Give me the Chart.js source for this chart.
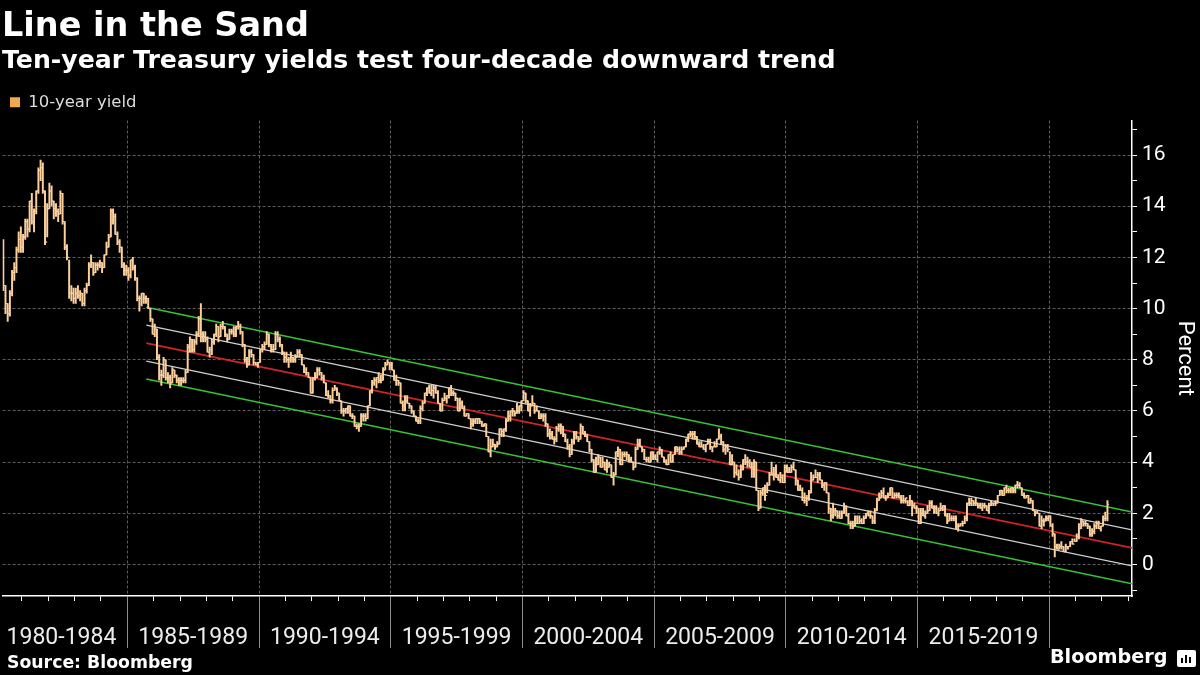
<!DOCTYPE html>
<html>
<head>
<meta charset="utf-8">
<script src="https://cdn.jsdelivr.net/npm/chart.js@4.4.1/dist/chart.umd.min.js"></script>
<style>
  body { margin: 0; background: #000; width: 1200px; height: 675px; overflow: hidden; position: relative; }
  #chart { position: absolute; left: 0; top: 0; }
  .txt { position: absolute; color: #fff; font-family: 'DejaVu Sans', sans-serif; font-weight: bold; white-space: nowrap; line-height: 1; }
  #title { left: 2px; top: 7.5px; font-size: 33.5px; }
  #subtitle { left: 2px; top: 47px; font-size: 25.2px; }
  #source { left: 7px; top: 653.5px; font-size: 17.3px; }
  #logo { left: 1050px; top: 647px; font-size: 19.2px; }
  #icon { position: absolute; left: 1177px; top: 650px; width: 19px; height: 17px; background: #fff; border-radius: 2px; }
  #icon span { position: absolute; bottom: 4px; width: 2px; background: #000; }
</style>
</head>
<body>
<canvas id="chart" width="1200" height="675"></canvas>
<div class="txt" id="title">Line in the Sand</div>
<div class="txt" id="subtitle">Ten-year Treasury yields test four-decade downward trend</div>
<div class="txt" id="source">Source: Bloomberg</div>
<div class="txt" id="logo">Bloomberg</div>
<div id="icon"><span style="left:4px;height:5px"></span><span style="left:8px;height:8px"></span><span style="left:12px;height:6px"></span></div>
<script>
// monthly bars, first bar is April 1980
var firstYear = 1980;
var firstMonth = 4;

var closes = [
  10.9, 10.2, 9.8, 10.6, 11.4, 11.6, 12.3, 12.7, 12.4,
  12.8, 13.4, 13.1, 14.2, 13.4, 13.8, 14.6, 15.4, 15.5, 14.6, 12.6, 13.9,
  14.6, 14.2, 13.9, 13.8, 13.7, 14.5, 13.4, 12.4, 12.0, 10.6, 10.6, 10.4,
  10.6, 10.5, 10.6, 10.2, 10.7, 10.9, 11.7, 11.8, 11.4, 11.7, 11.7, 11.8,
  11.6, 12.1, 12.4, 12.8, 13.8, 13.6, 12.9, 12.6, 12.4, 11.7, 11.5, 11.5,
  11.3, 11.9, 11.6, 11.2, 10.4, 10.4, 10.6, 10.4, 10.4, 10.0, 9.6, 9.0,
  9.2, 8.1, 7.4, 7.4, 8.0, 7.3, 7.3, 7.1, 7.6, 7.4, 7.2, 7.2,
  7.2, 7.2, 7.5, 8.5, 8.8, 8.4, 8.7, 9.0, 9.6, 9.0, 8.9, 8.8,
  8.3, 8.4, 8.7, 9.0, 9.3, 8.9, 9.3, 9.3, 9.0, 8.8, 9.1, 9.1,
  9.0, 9.3, 9.3, 9.1, 8.6, 8.0, 7.8, 8.3, 8.2, 7.9, 7.8, 7.9,
  8.4, 8.5, 8.6, 9.0, 8.6, 8.4, 8.4, 9.0, 8.8, 8.6, 8.3, 8.1,
  8.0, 8.0, 8.1, 8.0, 8.1, 8.3, 8.2, 7.8, 7.5, 7.5, 7.3, 6.7,
  7.3, 7.3, 7.6, 7.5, 7.3, 7.1, 6.6, 6.6, 6.4, 6.8, 6.9, 6.7,
  6.4, 6.0, 6.0, 6.1, 6.2, 5.8, 5.8, 5.4, 5.4, 5.4, 5.8, 5.8,
  5.7, 6.2, 6.8, 7.1, 7.2, 7.3, 7.2, 7.2, 7.6, 7.8, 7.9, 7.8,
  7.6, 7.2, 7.2, 7.1, 6.3, 6.2, 6.4, 6.3, 6.2, 6.0, 5.8, 5.6,
  5.6, 6.1, 6.3, 6.7, 6.9, 6.7, 6.8, 6.9, 6.7, 6.3, 6.0, 6.4,
  6.5, 6.6, 6.9, 6.7, 6.7, 6.5, 6.0, 6.3, 6.1, 5.8, 5.9, 5.7,
  5.5, 5.6, 5.7, 5.7, 5.6, 5.4, 5.5, 5.0, 4.4, 4.6, 4.7, 4.6,
  4.7, 5.3, 5.2, 5.3, 5.6, 5.8, 6.0, 6.0, 5.9, 6.0, 6.2, 6.4,
  6.7, 6.4, 6.0, 6.2, 6.3, 6.0, 6.0, 5.7, 5.8, 5.8, 5.5, 5.1,
  5.1, 4.9, 4.9, 5.3, 5.4, 5.4, 5.1, 4.8, 4.6, 4.3, 4.8, 5.1,
  5.0, 4.9, 5.4, 5.1, 5.0, 4.8, 4.5, 4.1, 3.6, 3.9, 4.2, 3.8,
  4.0, 3.7, 3.8, 3.9, 3.4, 3.5, 4.4, 4.5, 3.9, 4.3, 4.3, 4.3,
  4.1, 4.0, 3.8, 4.5, 4.7, 4.6, 4.5, 4.1, 4.1, 4.0, 4.4, 4.2,
  4.1, 4.4, 4.5, 4.2, 4.0, 3.9, 4.3, 4.0, 4.3, 4.6, 4.5, 4.4,
  4.5, 4.6, 4.9, 5.1, 5.1, 5.1, 5.0, 4.7, 4.6, 4.6, 4.5, 4.7,
  4.8, 4.6, 4.6, 4.6, 4.9, 5.0, 4.8, 4.5, 4.6, 4.5, 3.9, 4.0,
  3.6, 3.5, 3.4, 3.7, 4.1, 4.0, 4.0, 3.8, 3.8, 4.0, 2.9, 2.2,
  2.8, 3.0, 2.7, 3.1, 3.5, 3.5, 3.5, 3.4, 3.3, 3.4, 3.2, 3.8,
  3.6, 3.6, 3.8, 3.7, 3.3, 2.9, 2.9, 2.5, 2.5, 2.6, 2.8, 3.3,
  3.4, 3.4, 3.5, 3.3, 3.1, 3.2, 2.8, 2.2, 1.9, 2.1, 2.1, 1.9,
  1.8, 2.0, 2.2, 1.9, 1.6, 1.6, 1.5, 1.6, 1.6, 1.7, 1.6, 1.8,
  2.0, 1.9, 1.9, 1.7, 2.1, 2.5, 2.6, 2.8, 2.6, 2.6, 2.7, 3.0,
  2.6, 2.7, 2.7, 2.6, 2.5, 2.5, 2.6, 2.3, 2.5, 2.3, 2.2, 2.2,
  1.6, 2.0, 1.9, 2.0, 2.1, 2.4, 2.2, 2.2, 2.0, 2.1, 2.2, 2.3,
  1.9, 1.7, 1.8, 1.8, 1.8, 1.5, 1.5, 1.6, 1.6, 1.8, 2.4, 2.4,
  2.5, 2.4, 2.4, 2.3, 2.2, 2.3, 2.3, 2.1, 2.3, 2.4, 2.4, 2.4,
  2.7, 2.9, 2.7, 3.0, 2.9, 2.9, 3.0, 2.9, 3.1, 3.1, 3.0, 2.7,
  2.6, 2.7, 2.4, 2.5, 2.1, 2.0, 2.0, 1.5, 1.7, 1.7, 1.8, 1.9,
  1.5, 1.2, 0.7, 0.6, 0.7, 0.7, 0.5, 0.7, 0.7, 0.9, 0.8, 0.9,
  1.1, 1.4, 1.7, 1.6, 1.6, 1.5, 1.2, 1.3, 1.5, 1.6, 1.4, 1.5,
  1.8, 1.8, 2.35
];

var highs = [
  12.7, 10.9, 10.2, 10.7, 11.5, 11.8, 12.4, 13.0, 13.2,
  12.9, 13.5, 13.5, 14.2, 14.5, 13.9, 14.6, 15.5, 15.8, 15.7, 14.6, 14.1,
  14.9, 14.8, 14.2, 14.1, 13.9, 14.6, 14.5, 13.4, 12.5, 11.9, 10.9, 10.8,
  10.8, 10.9, 10.7, 10.6, 10.8, 11.0, 11.8, 12.1, 11.8, 11.8, 11.8, 11.9,
  11.8, 12.1, 12.6, 12.9, 13.9, 13.9, 13.7, 13.0, 12.7, 12.4, 11.8, 11.7,
  11.6, 11.9, 12.0, 11.7, 11.2, 10.5, 10.6, 10.6, 10.5, 10.4, 10.0, 9.6,
  9.4, 9.2, 8.2, 7.6, 8.1, 8.0, 7.5, 7.4, 7.7, 7.6, 7.4, 7.3,
  7.3, 7.3, 7.6, 8.6, 8.9, 8.8, 8.8, 9.1, 9.7, 10.2, 9.1, 9.1,
  8.9, 8.5, 8.8, 9.0, 9.4, 9.3, 9.4, 9.5, 9.3, 9.0, 9.2, 9.2,
  9.3, 9.3, 9.5, 9.4, 9.1, 8.6, 8.1, 8.4, 8.4, 8.2, 7.9, 7.9,
  8.4, 8.6, 8.7, 9.1, 9.0, 8.6, 8.6, 9.1, 9.1, 8.9, 8.6, 8.3,
  8.3, 8.1, 8.3, 8.1, 8.2, 8.4, 8.4, 8.2, 7.8, 7.7, 7.5, 7.3,
  7.3, 7.5, 7.7, 7.7, 7.5, 7.4, 7.1, 6.8, 6.6, 6.9, 7.0, 6.9,
  6.7, 6.4, 6.1, 6.1, 6.2, 6.2, 5.9, 5.8, 5.5, 5.5, 5.9, 5.9,
  5.9, 6.2, 6.8, 7.2, 7.3, 7.3, 7.5, 7.4, 7.7, 7.9, 8.0, 7.9,
  7.9, 7.6, 7.4, 7.2, 7.1, 6.4, 6.6, 6.6, 6.3, 6.2, 6.0, 5.8,
  5.7, 6.2, 6.4, 6.7, 6.9, 7.0, 7.0, 7.0, 7.0, 6.8, 6.3, 6.5,
  6.7, 6.6, 6.9, 7.0, 6.8, 6.7, 6.5, 6.5, 6.4, 6.2, 5.9, 5.9,
  5.7, 5.7, 5.7, 5.7, 5.7, 5.6, 5.5, 5.5, 5.0, 4.9, 4.9, 4.7,
  4.8, 5.3, 5.3, 5.3, 5.7, 6.0, 6.0, 6.1, 6.0, 6.3, 6.2, 6.4,
  6.8, 6.7, 6.4, 6.3, 6.6, 6.3, 6.2, 6.0, 5.9, 5.9, 5.9, 5.5,
  5.3, 5.2, 5.0, 5.4, 5.5, 5.5, 5.4, 5.1, 4.9, 4.7, 4.9, 5.2,
  5.2, 5.0, 5.5, 5.4, 5.2, 5.1, 4.8, 4.5, 4.1, 4.2, 4.3, 4.2,
  4.2, 4.0, 4.1, 4.0, 3.9, 3.6, 4.4, 4.6, 4.5, 4.4, 4.4, 4.4,
  4.3, 4.2, 4.0, 4.6, 4.9, 4.9, 4.6, 4.5, 4.2, 4.2, 4.4, 4.4,
  4.3, 4.4, 4.6, 4.5, 4.2, 4.1, 4.3, 4.4, 4.3, 4.6, 4.6, 4.6,
  4.6, 4.6, 4.9, 5.1, 5.2, 5.2, 5.2, 5.0, 4.8, 4.8, 4.7, 4.7,
  4.9, 4.9, 4.6, 4.8, 4.9, 5.3, 5.1, 4.8, 4.7, 4.7, 4.4, 4.3,
  4.0, 3.9, 3.7, 3.9, 4.1, 4.3, 4.2, 4.1, 4.0, 4.1, 4.0, 2.9,
  2.9, 3.0, 3.1, 3.2, 3.6, 4.0, 3.8, 3.9, 3.5, 3.6, 3.5, 3.9,
  3.9, 3.8, 3.9, 4.0, 3.7, 3.3, 3.1, 3.0, 2.8, 2.7, 2.9, 3.6,
  3.5, 3.7, 3.6, 3.6, 3.3, 3.2, 3.2, 2.8, 2.2, 2.4, 2.2, 2.1,
  2.1, 2.1, 2.4, 2.3, 2.0, 1.7, 1.7, 1.9, 1.9, 1.9, 1.8, 1.9,
  2.0, 2.1, 2.1, 1.9, 2.2, 2.6, 2.8, 2.9, 3.0, 2.7, 2.8, 3.0,
  3.0, 2.8, 2.8, 2.8, 2.7, 2.7, 2.6, 2.5, 2.7, 2.5, 2.4, 2.3,
  2.2, 2.2, 2.2, 2.1, 2.3, 2.5, 2.5, 2.3, 2.3, 2.2, 2.4, 2.3,
  2.3, 2.0, 2.0, 1.9, 1.9, 1.9, 1.6, 1.6, 1.7, 1.9, 2.4, 2.6,
  2.6, 2.5, 2.6, 2.4, 2.4, 2.4, 2.4, 2.3, 2.4, 2.5, 2.4, 2.5,
  2.7, 2.9, 2.9, 3.0, 3.1, 3.0, 3.0, 3.0, 3.1, 3.25, 3.2, 3.0,
  2.8, 2.7, 2.7, 2.6, 2.5, 2.1, 2.1, 2.0, 1.9, 1.8, 1.9, 1.9,
  1.9, 1.6, 1.2, 0.8, 0.8, 0.9, 0.7, 0.8, 0.7, 0.9, 1.0, 1.0,
  1.2, 1.6, 1.8, 1.7, 1.7, 1.6, 1.5, 1.4, 1.6, 1.7, 1.7, 1.5,
  1.9, 2.05, 2.5
];

var lows = [
  10.7, 9.8, 9.5, 9.7, 10.5, 11.1, 11.4, 12.2, 12.2,
  12.2, 12.7, 12.8, 13.0, 13.3, 13.0, 13.7, 14.5, 15.0, 14.5, 12.5, 12.8,
  13.9, 14.0, 13.5, 13.6, 13.4, 13.7, 13.3, 12.3, 11.9, 10.4, 10.3, 10.2,
  10.2, 10.4, 10.3, 10.1, 10.1, 10.6, 10.9, 11.6, 11.3, 11.4, 11.5, 11.6,
  11.4, 11.6, 12.1, 12.4, 12.8, 13.3, 12.9, 12.5, 12.2, 11.6, 11.3, 11.3,
  11.1, 11.2, 11.5, 11.1, 10.3, 9.9, 10.1, 10.2, 10.2, 10.0, 9.5, 9.0,
  8.9, 8.0, 7.2, 7.0, 7.3, 7.2, 7.1, 6.9, 7.1, 7.3, 7.1, 7.0,
  7.0, 7.1, 7.1, 7.5, 8.3, 8.3, 8.3, 8.6, 8.9, 8.7, 8.7, 8.7,
  8.3, 8.1, 8.2, 8.6, 8.9, 8.7, 8.9, 9.2, 8.9, 8.7, 8.8, 9.0,
  8.9, 8.9, 9.2, 9.0, 8.5, 7.9, 7.7, 7.8, 8.1, 7.8, 7.8, 7.7,
  7.9, 8.3, 8.4, 8.6, 8.5, 8.3, 8.3, 8.4, 8.7, 8.5, 8.2, 7.9,
  7.9, 7.7, 7.9, 7.9, 7.9, 8.1, 8.1, 7.8, 7.5, 7.4, 7.3, 6.7,
  6.7, 7.2, 7.3, 7.4, 7.2, 7.1, 6.6, 6.5, 6.3, 6.3, 6.8, 6.6,
  6.4, 5.9, 5.8, 5.9, 5.9, 5.8, 5.7, 5.4, 5.3, 5.2, 5.4, 5.6,
  5.6, 5.7, 6.2, 6.7, 7.0, 6.9, 7.1, 7.1, 7.2, 7.6, 7.8, 7.6,
  7.6, 7.2, 7.0, 7.0, 6.3, 6.0, 6.0, 6.3, 6.1, 5.9, 5.8, 5.6,
  5.5, 5.5, 6.0, 6.3, 6.6, 6.7, 6.6, 6.5, 6.7, 6.3, 6.0, 6.0,
  6.4, 6.3, 6.5, 6.6, 6.6, 6.4, 6.0, 6.0, 6.1, 5.8, 5.8, 5.7,
  5.3, 5.4, 5.5, 5.5, 5.5, 5.4, 5.4, 5.0, 4.4, 4.2, 4.6, 4.5,
  4.6, 4.7, 5.0, 5.0, 5.2, 5.6, 5.6, 5.8, 5.8, 5.9, 5.9, 6.0,
  6.4, 6.3, 6.0, 5.8, 6.2, 5.9, 6.0, 5.7, 5.7, 5.6, 5.4, 5.0,
  4.9, 4.9, 4.7, 4.8, 5.2, 5.1, 5.0, 4.8, 4.5, 4.2, 4.3, 4.7,
  4.9, 4.8, 4.9, 5.1, 5.0, 4.8, 4.4, 4.0, 3.6, 3.6, 3.9, 3.8,
  3.8, 3.7, 3.6, 3.8, 3.4, 3.1, 3.5, 4.2, 3.9, 3.9, 4.2, 4.1,
  4.0, 4.0, 3.7, 3.8, 4.5, 4.6, 4.4, 4.1, 4.0, 4.0, 4.0, 4.1,
  4.1, 4.0, 4.3, 4.2, 4.0, 3.9, 3.9, 4.0, 4.0, 4.3, 4.4, 4.3,
  4.3, 4.5, 4.6, 4.8, 5.0, 4.9, 4.9, 4.7, 4.6, 4.6, 4.5, 4.4,
  4.7, 4.5, 4.4, 4.6, 4.6, 4.9, 4.7, 4.4, 4.3, 4.4, 3.9, 3.9,
  3.4, 3.5, 3.3, 3.4, 3.7, 3.9, 3.8, 3.8, 3.4, 3.4, 2.9, 2.1,
  2.2, 2.7, 2.5, 2.8, 3.1, 3.5, 3.3, 3.4, 3.3, 3.2, 3.2, 3.2,
  3.6, 3.6, 3.6, 3.7, 3.1, 2.9, 2.9, 2.5, 2.4, 2.3, 2.5, 2.8,
  3.3, 3.4, 3.2, 3.3, 3.0, 2.9, 2.8, 2.0, 1.7, 1.8, 1.9, 1.8,
  1.8, 1.8, 2.0, 1.9, 1.6, 1.4, 1.4, 1.5, 1.6, 1.6, 1.6, 1.6,
  1.8, 1.9, 1.8, 1.6, 1.6, 2.1, 2.5, 2.6, 2.6, 2.5, 2.6, 2.7,
  2.6, 2.6, 2.6, 2.6, 2.4, 2.4, 2.4, 2.3, 2.3, 1.9, 2.2, 2.0,
  1.6, 1.6, 1.9, 1.8, 2.0, 2.1, 2.2, 2.0, 2.0, 1.9, 2.1, 2.1,
  1.9, 1.6, 1.7, 1.7, 1.7, 1.4, 1.3, 1.5, 1.5, 1.6, 1.7, 2.3,
  2.3, 2.3, 2.3, 2.2, 2.2, 2.1, 2.2, 2.1, 2.0, 2.3, 2.3, 2.3,
  2.4, 2.7, 2.7, 2.7, 2.8, 2.8, 2.8, 2.8, 2.8, 3.0, 3.0, 2.7,
  2.6, 2.6, 2.4, 2.4, 2.1, 1.9, 2.0, 1.5, 1.4, 1.5, 1.7, 1.7,
  1.5, 1.1, 0.3, 0.6, 0.6, 0.6, 0.5, 0.5, 0.6, 0.7, 0.8, 0.9,
  0.9, 1.0, 1.4, 1.5, 1.5, 1.4, 1.1, 1.1, 1.2, 1.4, 1.4, 1.3,
  1.5, 1.7, 1.7
];

// trend channel: value where it starts (late 1985) and where it ends (right edge)
var channelStart = 1985.72;
var channelEnd = 2023.14;
var channelStartValues = [10.05, 9.35, 8.65, 7.95, 7.25];
var channelEndValues = [2.05, 1.35, 0.65, -0.05, -0.75];
var channelColors = ['#35c435', '#cfcfcf', '#d02424', '#cfcfcf', '#35c435'];
var channelWidths = [1.5, 1.3, 1.8, 1.3, 1.5];

var bandStarts = [1980, 1985, 1990, 1995, 2000, 2005, 2010, 2015, 2020];
var bandLabels = ['1980-1984', '1985-1989', '1990-1994', '1995-1999', '2000-2004', '2005-2009', '2010-2014', '2015-2019'];
var yTickValues = [-1, 0, 1, 2, 3, 4, 5, 6, 7, 8, 9, 10, 11, 12, 13, 14, 15, 16, 17];

var xMin = 1980.265, xMax = 2023.14;
var yMin = -1.23, yMax = 17.35;
var barColor = '#fcd09c';

var monthX = closes.map(function(c, i) {
  return firstYear + (firstMonth - 1 + i + 0.5) / 12;
});

var yearTicks = [];
for (var yr = Math.ceil(xMin); yr <= Math.floor(xMax); yr++) yearTicks.push(yr);

var bandTicks = [];
bandStarts.forEach(function(b, i) {
  if (b > xMin) bandTicks.push({ value: b, label: '' });
  if (bandLabels[i]) bandTicks.push({ value: b + 2.5, label: bandLabels[i] });
});
bandTicks.sort(function(a, b) { return a.value - b.value; });

var datasets = [{
  type: 'bar',
  label: '10-year yield',
  data: monthX.map(function(x, i) { return { x: x, y: [lows[i], highs[i]] }; }),
  backgroundColor: barColor,
  borderWidth: 0,
  barThickness: 1.3,
  grouped: false,
  order: 1
}, {
  type: 'line',
  label: 'close',
  data: monthX.map(function(x, i) { return { x: x, y: closes[i] }; }),
  showLine: false,
  pointStyle: 'dash',
  pointRadius: 1.6,
  pointHoverRadius: 1.6,
  borderColor: barColor,
  backgroundColor: barColor,
  borderWidth: 1,
  order: 1
}, {
  type: 'line',
  label: 'open',
  data: monthX.slice(1).map(function(x, i) { return { x: x, y: closes[i] }; }),
  showLine: false,
  pointStyle: 'dash',
  pointRotation: 180,
  pointRadius: 1.6,
  pointHoverRadius: 1.6,
  borderColor: barColor,
  backgroundColor: barColor,
  borderWidth: 1,
  order: 1
}];

channelStartValues.forEach(function(v, i) {
  datasets.push({
    type: 'line',
    label: 'channel',
    data: [{ x: channelStart, y: v }, { x: channelEnd, y: channelEndValues[i] }],
    borderColor: channelColors[i],
    borderWidth: channelWidths[i],
    pointRadius: 0,
    order: 2
  });
});

new Chart(document.getElementById('chart'), {
  type: 'bar',
  data: { datasets: datasets },
  options: {
    responsive: false,
    animation: false,
    layout: { padding: { top: 84, bottom: 22, left: 0, right: 0 } },
    plugins: {
      legend: {
        position: 'top',
        align: 'start',
        labels: {
          filter: function(item) { return item.datasetIndex === 0; },
          boxWidth: 10,
          boxHeight: 10,
          color: '#dcdcdc',
          font: { family: 'DejaVu Sans', size: 16.5 },
          generateLabels: function(chart) {
            var items = Chart.defaults.plugins.legend.labels.generateLabels(chart);
            items.forEach(function(it) { it.fillStyle = '#f5a94e'; });
            return items;
          }
        }
      },
      tooltip: { enabled: false }
    },
    scales: {
      x: {
        type: 'linear',
        position: 'bottom',
        min: xMin,
        max: xMax,
        offset: false,
        afterBuildTicks: function(s) { s.ticks = yearTicks.map(function(v) { return { value: v }; }); },
        afterFit: function(s) { s.height = 5; },
        ticks: { display: false },
        grid: {
          offset: false,
          color: function(c) { return c.tick && c.tick.value % 5 === 0 ? '#5c5c5c' : 'rgba(0,0,0,0)'; },
          tickColor: function(c) { return c.tick && c.tick.value % 5 === 0 ? '#8c8c8c' : '#ffffff'; },
          tickLength: 5,
          tickBorderDash: []
        },
        border: { color: '#ffffff', width: 1.5, dash: [3, 2] }
      },
      xl: {
        type: 'linear',
        position: 'bottom',
        min: xMin,
        max: xMax,
        offset: false,
        afterBuildTicks: function(s) { s.ticks = bandTicks.map(function(t) { return { value: t.value }; }); },
        afterFit: function(s) { s.height = 52; },
        ticks: {
          autoSkip: false,
          maxRotation: 0,
          padding: -24,
          color: '#ececec',
          font: { family: 'Roboto', size: 23 },
          callback: function(v) {
            var t = bandTicks.find(function(b) { return b.value === v; });
            return t ? t.label : '';
          }
        },
        grid: {
          offset: false,
          drawOnChartArea: false,
          color: 'rgba(0,0,0,0)',
          tickColor: function(c) { return c.tick && c.tick.value % 5 === 0 ? '#8c8c8c' : 'rgba(0,0,0,0)'; },
          tickLength: 47,
          tickBorderDash: []
        },
        border: { display: false }
      },
      y: {
        type: 'linear',
        position: 'right',
        min: yMin,
        max: yMax,
        afterBuildTicks: function(s) { s.ticks = yTickValues.map(function(v) { return { value: v }; }); },
        afterFit: function(s) { s.width = 68; },
        ticks: {
          autoSkip: false,
          padding: 5,
          color: '#ffffff',
          font: { family: 'Roboto', size: 21 },
          callback: function(v) { return v % 2 === 0 ? String(v) : ''; }
        },
        grid: {
          color: function(c) { return c.tick && c.tick.value % 2 === 0 ? '#5c5c5c' : 'rgba(0,0,0,0)'; },
          tickColor: '#ffffff',
          tickLength: 5,
          tickBorderDash: []
        },
        border: { color: '#ffffff', width: 1.5, dash: [3, 2] },
        title: {
          display: true,
          text: 'Percent',
          color: '#ffffff',
          font: { family: 'Roboto', size: 22 },
          padding: { top: 2, bottom: 0 }
        }
      }
    }
  }
});
</script>
</body>
</html>
